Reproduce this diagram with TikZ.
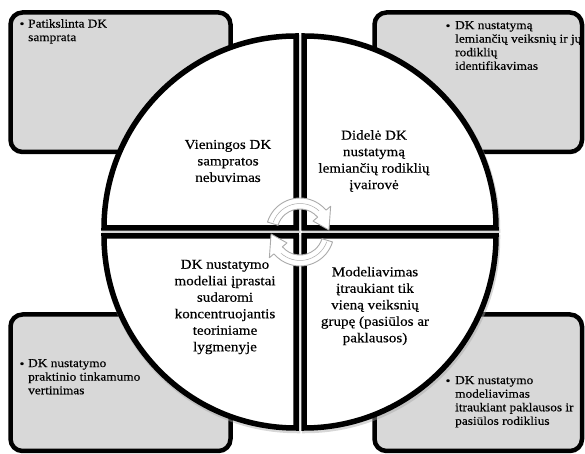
\documentclass[tikz,border=0pt]{standalone}
\usepackage{fontspec}
\setmainfont[FakeStretch=1.11, FakeBold=0.35]{Liberation Serif}
\definecolor{boxfill}{RGB}{216,216,216}
\definecolor{arrowedge}{RGB}{170,170,170}
\begin{document}
\begin{tikzpicture}[x=1pt,y=1pt,
  cornerbox/.style={draw=black, line width=4.5pt, fill=boxfill, rounded corners=12pt},
  piece/.style={draw=black, line width=5.5pt, fill=white, line join=miter},
  pieceshadow/.style={draw=black!35, line width=6.5pt, opacity=0.45, line join=miter, shift={(1,-2)}},
  maintext/.style={font=\fontsize{13.6}{16.5}\selectfont, align=center, inner sep=0pt},
  sidetext/.style={font=\fontsize{12}{13.6}\selectfont, align=left, inner sep=0pt, anchor=north west},
  dot/.style={font=\fontsize{12}{13.6}\selectfont, inner sep=0pt},
  cyclearrow/.style={fill=white, draw=arrowedge, line width=0.9pt, line join=round}]
\useasboundingbox (0,0) rectangle (585,454);

% corner boxes
\draw[cornerbox] (10.5,302) rectangle (230.5,441.5);
\draw[cornerbox] (374.5,302) rectangle (582,441.5);
\draw[cornerbox] (10.5,3) rectangle (230.5,139.5);
\draw[cornerbox] (374.5,3) rectangle (582,139.5);

% soft shadows under the quarter pieces
\draw[pieceshadow] (296,226) -- (104,226) arc[start angle=180, end angle=90, radius=192] -- cycle;
\draw[pieceshadow] (304,226) -- (304,418) arc[start angle=90, end angle=0, radius=192] -- cycle;
\draw[pieceshadow] (296,218) -- (296,26) arc[start angle=270, end angle=180, radius=192] -- cycle;
\draw[pieceshadow] (304,218) -- (496,218) arc[start angle=0, end angle=-90, radius=192] -- cycle;

% four quarter pieces of the circle
\draw[piece] (296,226) -- (104,226) arc[start angle=180, end angle=90, radius=192] -- cycle;
\draw[piece] (304,226) -- (304,418) arc[start angle=90, end angle=0, radius=192] -- cycle;
\draw[piece] (296,218) -- (296,26) arc[start angle=270, end angle=180, radius=192] -- cycle;
\draw[piece] (304,218) -- (496,218) arc[start angle=0, end angle=-90, radius=192] -- cycle;

% cycle arrows in the middle
\begin{scope}[shift={(300,222)}]
  \filldraw[cyclearrow] (163:34) arc[start angle=163, end angle=40, radius=34]
    -- (40:40) -- (4:29) -- (40:17) -- (40:23)
    arc[start angle=40, end angle=163, radius=23] -- cycle;
  \draw[arrowedge, line width=0.5pt] (160:28.5) arc[start angle=160, end angle=48, radius=28.5];
\end{scope}
\begin{scope}[shift={(300,222)}, rotate=180]
  \filldraw[cyclearrow] (163:34) arc[start angle=163, end angle=40, radius=34]
    -- (40:40) -- (4:29) -- (40:17) -- (40:23)
    arc[start angle=40, end angle=163, radius=23] -- cycle;
  \draw[arrowedge, line width=0.5pt] (160:28.5) arc[start angle=160, end angle=48, radius=28.5];
\end{scope}

% texts of the quarters
\node[maintext] (q1) at (228,293) {Vieningos DK\\sampratos\\nebuvimas};
\node[maintext] (q2) at (374,293) {Didelė DK\\nustatymą\\lemiančių rodiklių\\įvairovė};
\node[maintext] (q3) at (225,147) {DK nustatymo\\modeliai įprastai\\sudaromi\\koncentruojantis\\teoriniame\\lygmenyje};
\node[maintext] (q4) at (375,148) {Modeliavimas\\įtraukiant tik\\vieną veiksnių\\grupę (pasiūlos ar\\paklausos)};

% bullet texts of the corner boxes
\node[dot] (b1) at (22,429) {\textbullet};
\node[sidetext] (t1) at (28,435) {Patikslinta DK\\samprata};
\node[dot] (b2) at (448,427) {\textbullet};
\node[sidetext] (t2) at (455,433) {DK nustatymą\\lemiančių veiksnių ir jų\\rodiklių\\identifikavimas};
\node[dot] (b3) at (22,89) {\textbullet};
\node[sidetext] (t3) at (28,95) {DK nustatymo\\praktinio tinkamumo\\vertinimas};
\node[dot] (b4) at (448,72) {\textbullet};
\node[sidetext] (t4) at (455,78) {DK nustatymo\\modeliavimas\\itraukiant paklausos ir\\pasiūlos rodiklius};
\end{tikzpicture}
\end{document}
